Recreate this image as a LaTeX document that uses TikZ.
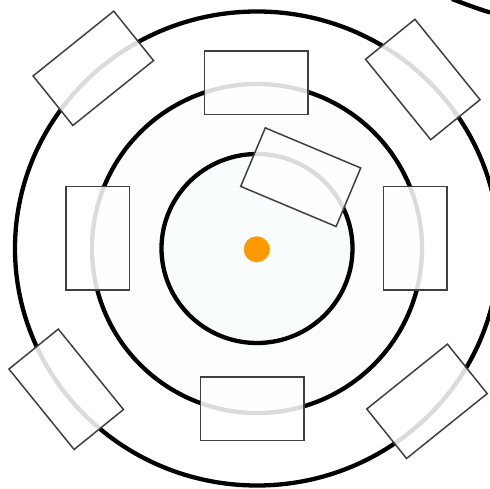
\documentclass[tikz,border=0pt]{standalone}
\usepackage{tikz}

\definecolor{hubOrange}{RGB}{255,153,0}
\definecolor{coreFill}{RGB}{249,252,253}
\definecolor{ringFill}{RGB}{252,254,254}

\begin{document}
\begin{tikzpicture}[x=1pt, y=1pt,
        ring/.style={line width=4.3pt},
        slot/.style={rectangle, draw=black!75, line width=1.5pt, fill=white, fill opacity=0.86,
                     minimum width=103.5pt, minimum height=63.5pt, inner sep=0pt}]
        \useasboundingbox (0,0) rectangle (490,489);
        % Ringen: buiten -> midden -> kern
        \draw[ring, fill=white] (257,240.5) ellipse [x radius=242, y radius=237];
        \draw[ring, fill=ringFill] (257,240.5) ellipse [x radius=165, y radius=164.5];
        \draw[ring, fill=coreFill] (257,240.5) ellipse [x radius=95.5, y radius=94.5];
        \draw[ring] (452,490) .. controls (465,485) and (477,480.5) .. (490,476.5); % rand rechtsboven
        \node[circle, fill=hubOrange, inner sep=0pt, minimum size=26pt] (hub) at (256.7,239.7) {};
        % Vakken op de middelste ring
        \node[slot] (top) at (256,406) {};
        \node[slot] (bottom) at (252,80) {};
        \node[slot, rotate=90] (left) at (97.5,250.5) {};
        \node[slot, rotate=90] (right) at (415,250.5) {};
        % Vak op de kern
        \node[slot, rotate=-22.8] (core) at (300.7,311.8) {};
        % Vakken op de buitenring
        \node[slot, rotate=38.8] (topleft) at (93.3,420.7) {};
        \node[slot, rotate=-51] (topright) at (422.8,409.5) {};
        \node[slot, rotate=-51] (bottomleft) at (66.2,99.7) {};
        \node[slot, rotate=38.8] (bottomright) at (427,87.7) {};
    \end{tikzpicture}
\end{document}
